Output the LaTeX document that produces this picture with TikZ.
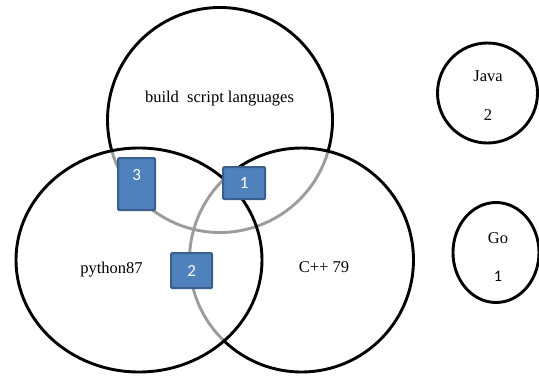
\documentclass[tikz,border=0pt]{standalone}
\usepackage{fontspec}
\setmainfont{Liberation Serif}
\newfontfamily\numfont{Carlito}
\definecolor{boxfill}{HTML}{4F81BD}
\definecolor{boxedge}{HTML}{3A5F8B}
\definecolor{hidden}{HTML}{9C9C9C}
\tikzset{
  ring/.style={draw=black, line width=2.9pt},
  innerarc/.style={draw=hidden, line width=2.9pt},
  lbl/.style={inner sep=0pt, anchor=base, font=\fontsize{16.5}{19}\selectfont},
  numbox/.style={fill=boxfill, draw=boxedge, line width=2.2pt, rounded corners=1.2pt,
    inner sep=0pt, anchor=north west, text=white,
    font=\numfont\fontsize{17}{20}\selectfont},
}
\begin{document}
\begin{tikzpicture}[x=1pt,y=1pt]
\useasboundingbox (0,0) rectangle (539,376);
% circle centres
\coordinate (T) at (220,256);
\coordinate (L) at (139,116);
\coordinate (R) at (301.5,116);
\coordinate (J) at (487.5,283);
\coordinate (G) at (496,123.5);

% arcs lying inside another set, drawn in grey
\draw[innerarc] (T) ++(196:112.5pt) arc[start angle=196, end angle=343.9, radius=112.5pt];
\draw[innerarc] (R) ++(133.9:112pt) arc[start angle=133.9, end angle=226.1, radius=112pt];

% outer outlines in black
\draw[ring] (T) ++(343.9:112.5pt) arc[start angle=343.9, end angle=556, radius=112.5pt];
\draw[ring] (R) ++(226.1:112pt) arc[start angle=226.1, end angle=493.9, radius=112pt];
\draw[ring] (L) ellipse[x radius=123pt, y radius=112pt];
\draw[ring] (J) ellipse[x radius=50pt, y radius=50pt];
\draw[ring] (G) ellipse[x radius=43pt, y radius=50pt];

% set labels
\node[lbl] (tlabel) at (219.5,274) {build\ \ script languages};
\node[lbl] (llabel) at (111.5,103) {python87};
\node[lbl] (rlabel) at (324,103.3) {C++ 79};
\node[lbl] (jname) at (488,294.3) {Java};
\node[lbl] (jcount) at (488,256) {2};
\node[lbl] (gname) at (498,132.7) {Go};
\node[lbl, font=\numfont\fontsize{16}{19}\selectfont] (gcount) at (498,95) {1};

% counts of overlaps
\node[numbox, minimum width=37pt, minimum height=52pt, text height=22.3pt, text depth=29.7pt] (b3) at (117,219) {3};
\node[numbox, minimum width=42pt, minimum height=32pt, text height=21.8pt, text depth=10.2pt] (b1) at (222,210) {1};
\node[numbox, minimum width=41pt, minimum height=35pt, text height=23pt, text depth=12pt] (b2) at (170,124) {2};
\end{tikzpicture}
\end{document}
